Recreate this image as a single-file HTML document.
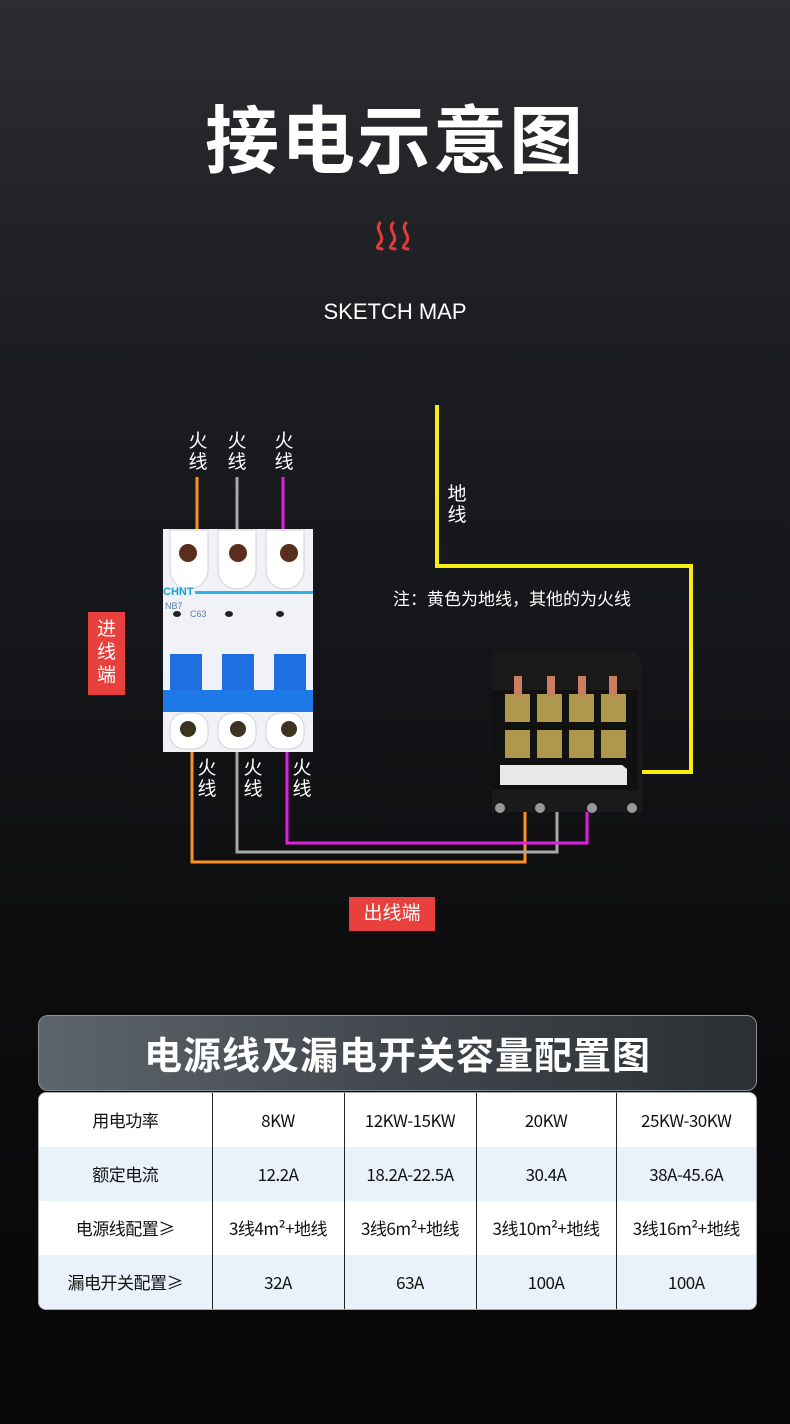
<!DOCTYPE html>
<html><head><meta charset="utf-8"><style>
*{margin:0;padding:0;box-sizing:border-box}
body{width:790px;height:1424px;position:relative;overflow:hidden;font-family:"Liberation Sans","Noto Sans CJK SC",sans-serif;background:linear-gradient(180deg,#2c2d31 0px,#1c1d21 350px,#131417 700px,#0c0c0e 1000px,#070707 1424px);color:#fff}
.a{position:absolute}
.t{white-space:nowrap}
.v{position:absolute;font-size:19px;line-height:21px;width:20px;text-align:center;color:#fff}
table{border-collapse:collapse;width:100%;height:100%}
td{text-align:center;vertical-align:middle;font-size:17px;line-height:20px;color:#111;border-left:1px solid #222;letter-spacing:-0.5px;font-family:"Noto Sans CJK SC",sans-serif}
td:first-child{border-left:none}
tr:nth-child(even) td{background:#e9f2fa}
tr:nth-child(odd) td{background:#fff}
</style></head><body>
<div class="a t" style="left:0;width:790px;top:92px;text-align:center;font-size:74px;font-weight:bold;letter-spacing:2px;line-height:100px">接电示意图</div>
<svg class="a" style="left:374px;top:220px" width="42" height="32"><g stroke="#e43a3a" stroke-width="3" fill="none" stroke-linecap="round"><path d="M6 3 C0 10,12 16,6 23 S6 28,8 29"/><path d="M19 3 C13 10,25 16,19 23 S19 28,21 29"/><path d="M32 3 C26 10,38 16,32 23 S32 28,34 29"/></g></svg>
<div class="a t" style="left:0;width:790px;top:298px;text-align:center;font-size:22px;line-height:28px">SKETCH MAP</div>

<svg class="a" style="left:0;top:0" width="790" height="1000">
<g fill="none" stroke-width="3">
<path d="M197 477V530" stroke="#f7931e"/>
<path d="M237 477V530" stroke="#a8a8a8"/>
<path d="M283 477V530" stroke="#e020e0"/>
<path d="M437 405V566H691V772H612" stroke="#f5ee10" stroke-width="4"/>
<path d="M192 752V862H525V778" stroke="#f7931e"/>
<path d="M237 752V852H557V780" stroke="#a8a8a8"/>
<path d="M287 752V843H587V778" stroke="#e020e0"/>
</g>
<rect x="163" y="529" width="150" height="223" fill="#f1f2f7"/>
<g fill="#fff" stroke="#d0d2da"><path d="M170 530h38v40a19 19 0 0 1-38 0z"/><path d="M218 530h38v40a19 19 0 0 1-38 0z"/><path d="M266 530h38v40a19 19 0 0 1-38 0z"/></g>
<g fill="#5a2e1c"><circle cx="188" cy="553" r="9"/><circle cx="238" cy="553" r="9"/><circle cx="289" cy="553" r="9"/></g>
<text x="163" y="595" font-size="11" font-weight="bold" fill="#1aa0d8" font-family="Liberation Sans">CHNT</text>
<rect x="195" y="591" width="118" height="3" fill="#29b5e6"/>
<text x="165" y="609" font-size="9" fill="#5a7ab0">NB7</text><text x="190" y="617" font-size="9" fill="#5a7ab0">C63</text>
<g fill="#222"><ellipse cx="177" cy="614" rx="4" ry="3"/><ellipse cx="229" cy="614" rx="4" ry="3"/><ellipse cx="280" cy="614" rx="4" ry="3"/></g>
<g fill="#1f6fe0"><rect x="170" y="654" width="32" height="36"/><rect x="222" y="654" width="32" height="36"/><rect x="274" y="654" width="32" height="36"/><rect x="163" y="690" width="150" height="22" fill="#1d79e8"/></g>
<g fill="#fff" stroke="#d0d2da"><rect x="170" y="713" width="38" height="36" rx="14"/><rect x="218" y="713" width="38" height="36" rx="14"/><rect x="266" y="713" width="38" height="36" rx="14"/></g>
<g fill="#3a3420"><circle cx="188" cy="729" r="8"/><circle cx="238" cy="729" r="8"/><circle cx="289" cy="729" r="8"/></g>
<path d="M494 652h140l8 10v150h-150v-150z" fill="#1a1a1b"/>
<rect x="492" y="690" width="146" height="100" fill="#111"/>
<g fill="#b0974e"><rect x="505" y="694" width="25" height="28"/><rect x="537" y="694" width="25" height="28"/><rect x="569" y="694" width="25" height="28"/><rect x="601" y="694" width="25" height="28"/><rect x="505" y="730" width="25" height="28"/><rect x="537" y="730" width="25" height="28"/><rect x="569" y="730" width="25" height="28"/><rect x="601" y="730" width="25" height="28"/></g>
<g fill="#c88060"><rect x="514" y="676" width="8" height="20"/><rect x="547" y="676" width="8" height="20"/><rect x="578" y="676" width="8" height="20"/><rect x="609" y="676" width="8" height="20"/></g>
<path d="M500 765h122l5 4v16h-127z" fill="#e8e8e8"/>
<g fill="#999"><circle cx="500" cy="808" r="5"/><circle cx="540" cy="808" r="5"/><circle cx="592" cy="808" r="5"/><circle cx="632" cy="808" r="5"/></g>
</svg>
<div class="v" style="left:188px;top:431px">火<br>线</div>
<div class="v" style="left:227px;top:431px">火<br>线</div>
<div class="v" style="left:274px;top:431px">火<br>线</div>
<div class="v" style="left:447px;top:484px">地<br>线</div>
<div class="v" style="left:197px;top:758px">火<br>线</div>
<div class="v" style="left:243px;top:758px">火<br>线</div>
<div class="v" style="left:292px;top:758px">火<br>线</div>
<div class="a t" style="left:393px;top:588px;font-size:17px;line-height:24px">注：黄色为地线，其他的为火线</div>
<div class="a" style="left:88px;top:612px;width:37px;height:83px;background:#e8403c;font-size:19px;line-height:23px;text-align:center;padding-top:6px">进<br>线<br>端</div>
<div class="a t" style="left:349px;top:897px;width:86px;height:34px;background:#e8403c;font-size:19px;line-height:34px;text-align:center">出线端</div>

<div class="a" style="left:38px;top:1015px;width:719px;height:76px;border-radius:10px;border:1px solid #8a9096;background:linear-gradient(90deg,#5d646b,#3c4247 60%,#2b2f33);"></div>
<div class="a t" style="left:38px;width:719px;top:1015px;height:76px;line-height:76px;text-align:center;font-size:38px;font-weight:bold;letter-spacing:1px;font-family:'Noto Sans CJK SC',sans-serif">电源线及漏电开关容量配置图</div>
<div class="a" style="left:38px;top:1092px;width:719px;height:218px;border-radius:8px;overflow:hidden;border:1px solid #aaa;background:#fff">
<table>
<colgroup><col style="width:173px"><col style="width:132px"><col style="width:132px"><col style="width:140px"><col></colgroup>
<tr><td>用电功率</td><td>8KW</td><td>12KW-15KW</td><td>20KW</td><td>25KW-30KW</td></tr>
<tr><td>额定电流</td><td>12.2A</td><td>18.2A-22.5A</td><td>30.4A</td><td>38A-45.6A</td></tr>
<tr><td>电源线配置≥</td><td>3线4m²+地线</td><td>3线6m²+地线</td><td>3线10m²+地线</td><td>3线16m²+地线</td></tr>
<tr><td>漏电开关配置≥</td><td>32A</td><td>63A</td><td>100A</td><td>100A</td></tr>
</table></div>
</body></html>
